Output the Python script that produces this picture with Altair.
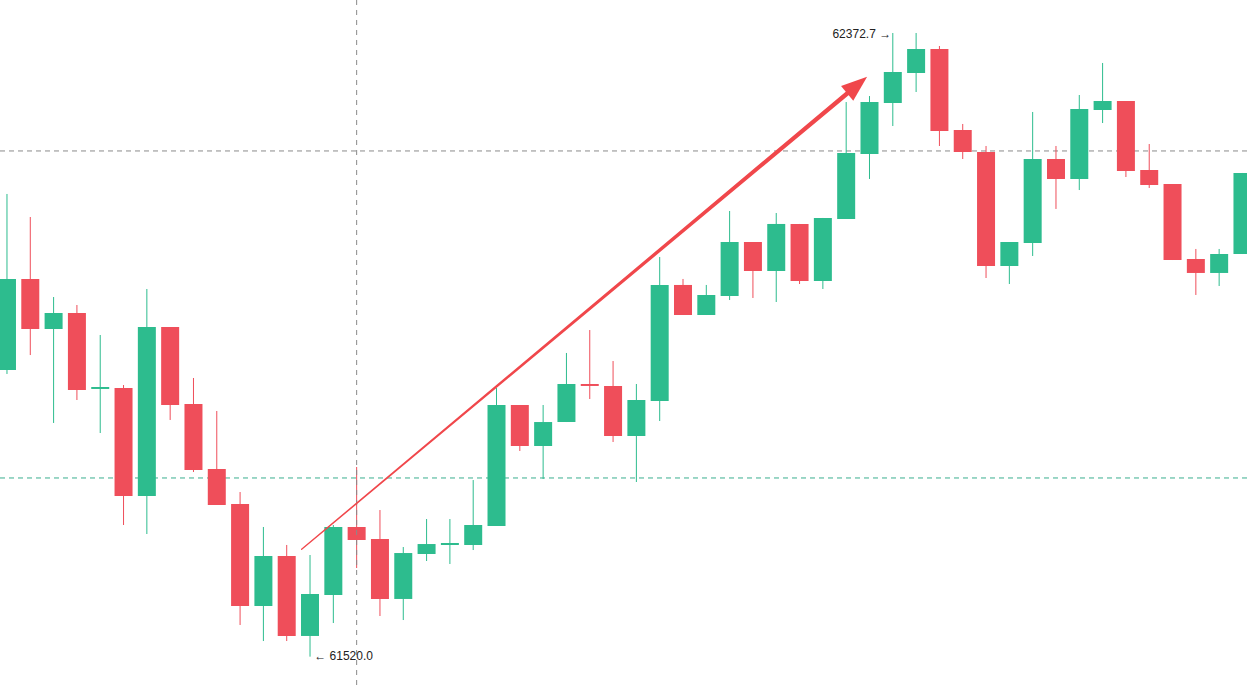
import altair as alt
import pandas as pd

# OHLC values (price units)
opens = [61911.9, 62036.4, 61968.0, 61989.9, 61886.0, 61887.3, 61739.7, 61970.7, 61865.5, 61776.6,
         61728.7, 61589.3, 61657.6, 61548.3, 61604.3, 61697.3, 61680.9, 61598.9, 61660.4, 61672.7,
         61672.7, 61698.7, 61864.1, 61808.0, 61840.8, 61892.8, 61890.1, 61821.7, 61869.6, 62028.2,
         61987.1, 62013.1, 62086.9, 62047.3, 62111.6, 62033.6, 62118.4, 62207.2, 62277.0, 62318.0,
         62350.8, 62240.1, 62210.0, 62054.1, 62085.6, 62200.4, 62173.1, 62267.4, 62279.7, 62185.4,
         62166.2, 62063.7, 62044.6, 62070.5]
highs = [62152.6, 62121.1, 62011.7, 62000.8, 61959.8, 61891.4, 62022.7, 61970.7, 61901.0, 61855.9,
         61745.1, 61697.3, 61672.7, 61659.0, 61700.0, 61779.3, 61720.5, 61669.9, 61708.2, 61708.2,
         61761.5, 61887.3, 61864.1, 61864.1, 61935.2, 61966.6, 61924.2, 61892.8, 62066.4, 62036.4,
         62028.2, 62129.3, 62086.9, 62126.6, 62111.6, 62119.8, 62278.3, 62286.5, 62372.7, 62372.7,
         62354.9, 62248.3, 62218.2, 62086.9, 62264.7, 62218.2, 62287.9, 62331.7, 62279.7, 62220.9,
         62166.2, 62077.4, 62077.4, 62181.3]
lows = [61906.5, 61932.4, 61839.5, 61870.9, 61825.8, 61700.0, 61687.7, 61843.6, 61772.5, 61727.4,
        61563.3, 61541.4, 61541.4, 61520.0, 61566.0, 61641.2, 61575.6, 61570.1, 61650.8, 61646.7,
        61665.8, 61698.7, 61801.2, 61762.9, 61840.8, 61872.3, 61813.5, 61758.8, 61842.2, 61987.1,
        61987.1, 62007.6, 62010.4, 62004.9, 62029.5, 62022.7, 62118.4, 62173.1, 62245.5, 62292.0,
        62218.2, 62200.4, 62037.7, 62029.5, 62067.8, 62132.1, 62158.0, 62249.6, 62175.8, 62160.8,
        62062.3, 62014.5, 62026.8, 62070.5]
closes = [62036.4, 61968.0, 61989.9, 61884.6, 61888.7, 61739.7, 61970.7, 61864.1, 61775.2, 61727.4,
          61589.3, 61657.6, 61548.3, 61605.7, 61697.3, 61679.5, 61598.9, 61661.7, 61674.0, 61675.4,
          61700.0, 61864.1, 61808.0, 61840.8, 61892.8, 61890.1, 61821.7, 61870.9, 62028.2, 61987.1,
          62014.5, 62086.9, 62047.3, 62111.6, 62033.6, 62119.8, 62208.6, 62278.3, 62319.4, 62350.8,
          62238.7, 62210.0, 62054.1, 62086.9, 62200.4, 62173.1, 62268.8, 62279.7, 62184.0, 62164.9,
          62062.3, 62044.6, 62070.5, 62181.3]

# reference levels
green_level = [61764.3]
gray_level = [62211.4]
cursor_index = [15]

# arrow (start, end) and head
arrow_x = [12.64, 36.17]
arrow_y = [61666.8, 62293.4]
arrow_w = [1.3, 4.5]
head_x = [36.47]
head_y = [62301.5]

# annotations
label_text = ["62372.7 \u2192", "\u2190 61520.0"]
label_x = [37.93, 13.18]
label_y = [62371.5, 61521.0]

GREEN = "#2DBC8E"
RED = "#EF4E5A"

df = pd.DataFrame({
    "i": list(range(len(opens))),
    "open": opens, "high": highs, "low": lows, "close": closes,
})
df["dir"] = ["up" if c >= o else "down" for o, c in zip(opens, closes)]

xs = alt.Scale(domain=[-0.085, 52.98], nice=False, zero=False)
ys = alt.Scale(domain=[61479.9, 62417.8], nice=False, zero=False)
col = alt.Color("dir:N", scale=alt.Scale(domain=["up", "down"], range=[GREEN, RED]), legend=None)

base = alt.Chart(df)

wicks = base.mark_rule(strokeWidth=1, clip=True).encode(
    x=alt.X("i:Q", scale=xs, axis=None),
    y=alt.Y("low:Q", scale=ys, axis=None),
    y2="high:Q",
    color=col,
)
bodies = base.mark_bar(width=18, clip=True).encode(
    x=alt.X("i:Q", scale=xs, axis=None),
    y=alt.Y("open:Q", scale=ys, axis=None),
    y2="close:Q",
    color=col,
)

hline_green = alt.Chart(pd.DataFrame({"p": green_level})).mark_rule(
    color="#3AAE8E", strokeWidth=1, strokeDash=[5, 4]
).encode(y=alt.Y("p:Q", scale=ys, axis=None))
hline_gray = alt.Chart(pd.DataFrame({"p": gray_level})).mark_rule(
    color="#8A8A8A", strokeWidth=1, strokeDash=[5, 4]
).encode(y=alt.Y("p:Q", scale=ys, axis=None))
vline = alt.Chart(pd.DataFrame({"c": cursor_index})).mark_rule(
    color="#8A8A8A", strokeWidth=1, strokeDash=[5, 5]
).encode(x=alt.X("c:Q", scale=xs, axis=None))

arrow_df = pd.DataFrame({"x": arrow_x, "y": arrow_y, "w": arrow_w, "o": [0, 1]})
arrow = alt.Chart(arrow_df).mark_trail(color="#F0474B").encode(
    x=alt.X("x:Q", scale=xs, axis=None),
    y=alt.Y("y:Q", scale=ys, axis=None),
    size=alt.Size("w:Q", scale=None, legend=None),
    order="o:Q",
)
head = alt.Chart(pd.DataFrame({"x": head_x, "y": head_y})).mark_point(
    shape="M0,-1L0.74,1L-0.74,1Z", filled=True, color="#F0474B", opacity=1,
    size=670, angle=50.5, strokeWidth=0,
).encode(
    x=alt.X("x:Q", scale=xs, axis=None),
    y=alt.Y("y:Q", scale=ys, axis=None),
)

lab_df = pd.DataFrame({"t": label_text, "x": label_x, "y": label_y})
lab_r = alt.Chart(lab_df.iloc[[0]]).mark_text(
    align="right", baseline="middle", font="Liberation Sans", fontSize=12, color="#222222"
).encode(x=alt.X("x:Q", scale=xs, axis=None), y=alt.Y("y:Q", scale=ys, axis=None), text="t:N")
lab_l = alt.Chart(lab_df.iloc[[1]]).mark_text(
    align="left", baseline="middle", font="Liberation Sans", fontSize=12, color="#222222"
).encode(x=alt.X("x:Q", scale=xs, axis=None), y=alt.Y("y:Q", scale=ys, axis=None), text="t:N")

chart = alt.layer(
    hline_green, hline_gray, wicks, bodies, vline, arrow, head, lab_r, lab_l
).properties(
    width=1247, height=686, padding=0,
    autosize=alt.AutoSizeParams(type="none"),
    background="white",
).configure_view(strokeWidth=0)

chart.save("out.html", embed_options={"renderer": "svg", "actions": False})
